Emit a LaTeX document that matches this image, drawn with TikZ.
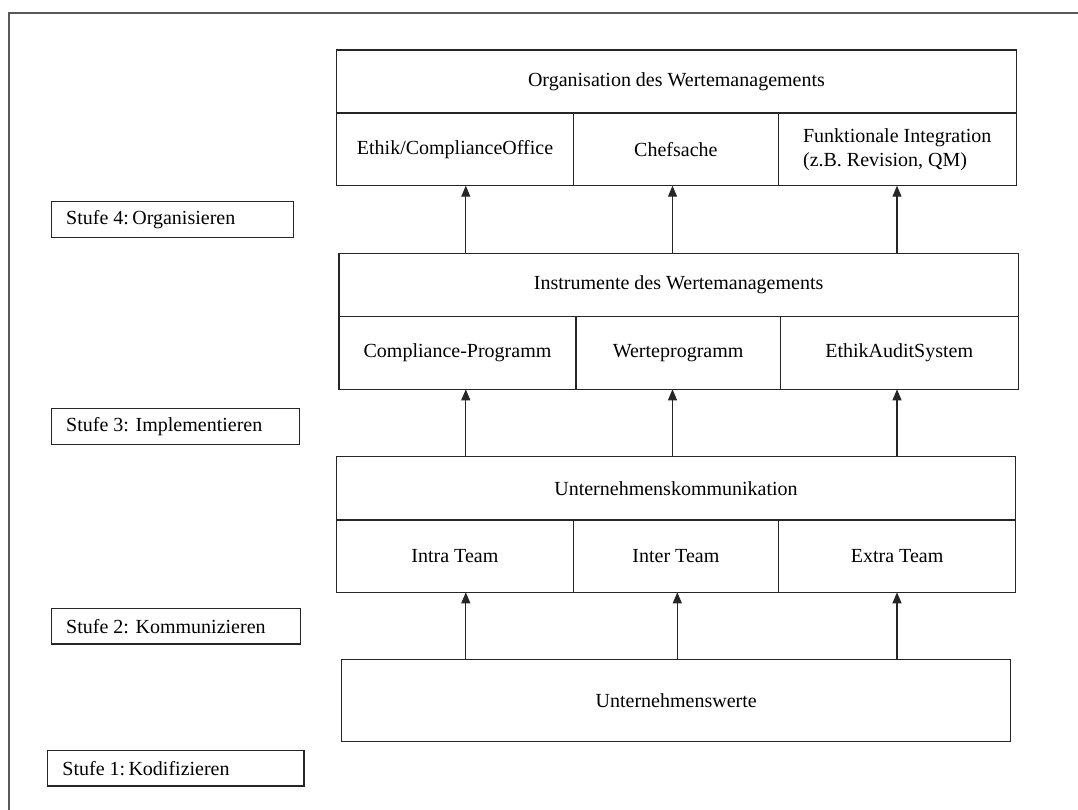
\documentclass[tikz,border=0pt]{standalone}
\usepackage{fontspec}
\setmainfont{Liberation Serif}
\usetikzlibrary{arrows.meta,fit}
\begin{document}
\begin{tikzpicture}[x=1pt,y=-1pt,
  cell/.style={draw=black!85, line width=1.1pt, inner sep=0pt, outer sep=0pt, align=center,
    font=\fontsize{20}{24}\selectfont},
  stufe/.style={draw=black!85, line width=1.1pt, inner sep=0pt, outer sep=0pt,
    font=\fontsize{20}{24}\selectfont},
  arr/.style={draw=black!85, line width=1.1pt, -{Triangle[width=9pt,length=11pt]}},
  frame/.style={draw=black!65, line width=1.4pt}]
\useasboundingbox (0,0) rectangle (1078,809);
\draw[frame] (9,815) -- (9,13) -- (1085,13);

% Level 4: Organisation
\node[cell, fit={(336.7,50) (1016.2,113)}] (orgH) {};
\node[font=\fontsize{20}{24}\selectfont] at (orgH.center) {Organisation des Wertemanagements};
\node[cell, fit={(336.7,113) (573.4,185.7)}] (orgA) {};
\node[font=\fontsize{20}{24}\selectfont] at (orgA.center) {Ethik/ComplianceOffice};
\node[cell, fit={(573.4,113) (778.3,185.7)}] (orgB) {};
\node[font=\fontsize{20}{24}\selectfont] at (orgB.center) {Chefsache};
\node[cell, fit={(778.3,113) (1016.2,185.7)}] (orgC) {};
\node[font=\fontsize{20}{24}\selectfont, align=left] at (orgC.center) {Funktionale Integration\\(z.B. Revision, QM)};

% Level 3: Instrumente
\node[cell, fit={(339,253.3) (1018.2,316.7)}] (insH) {};
\node[font=\fontsize{20}{24}\selectfont] at (insH.center) {Instrumente des Wertemanagements};
\node[cell, fit={(339,316.7) (576,389.3)}] (insA) {};
\node[font=\fontsize{20}{24}\selectfont] at (insA.center) {Compliance-Programm};
\node[cell, fit={(576,316.7) (780.2,389.3)}] (insB) {};
\node[font=\fontsize{20}{24}\selectfont] at (insB.center) {Werteprogramm};
\node[cell, fit={(780.2,316.7) (1018.2,389.3)}] (insC) {};
\node[font=\fontsize{20}{24}\selectfont] at (insC.center) {EthikAuditSystem};

% Level 2: Kommunikation
\node[cell, fit={(336.4,456.7) (1015.6,520)}] (komH) {};
\node[font=\fontsize{20}{24}\selectfont] at (komH.center) {Unternehmenskommunikation};
\node[cell, fit={(336.4,520) (573.3,592.3)}] (komA) {};
\node[font=\fontsize{20}{24}\selectfont] at (komA.center) {Intra Team};
\node[cell, fit={(573.3,520) (778.5,592.3)}] (komB) {};
\node[font=\fontsize{20}{24}\selectfont] at (komB.center) {Inter Team};
\node[cell, fit={(778.5,520) (1015.6,592.3)}] (komC) {};
\node[font=\fontsize{20}{24}\selectfont] at (komC.center) {Extra Team};

% Level 1: Werte
\node[cell, fit={(341.6,659.3) (1010.8,741.7)}] (werte) {};
\node[font=\fontsize{20}{24}\selectfont] at (werte.center) {Unternehmenswerte};

% Stufe labels
\node[stufe, fit={(51.7,201.7) (293.3,237.3)}] (s4) {};
\node[font=\fontsize{20}{24}\selectfont, anchor=west] at ([xshift=11pt]s4.west) {Stufe 4:\,Organisieren};
\node[stufe, fit={(51.7,408.3) (299.2,444.3)}] (s3) {};
\node[font=\fontsize{20}{24}\selectfont, anchor=west] at ([xshift=11pt]s3.west) {Stufe 3: Implementieren};
\node[stufe, fit={(51.7,608.3) (300.6,644)}] (s2) {};
\node[font=\fontsize{20}{24}\selectfont, anchor=west] at ([xshift=11pt]s2.west) {Stufe 2: Kommunizieren};
\node[stufe, fit={(47.9,750.3) (304,786)}] (s1) {};
\node[font=\fontsize{20}{24}\selectfont, anchor=west] at ([xshift=11pt]s1.west) {Stufe 1:\,Kodifizieren};

% arrow x positions
\coordinate (xa) at (465.8,0);
\coordinate (xb) at (672.5,0);
\coordinate (xb2) at (677.3,0);
\coordinate (xc) at (897,0);

% arrows level 1 -> 2
\draw[arr] (werte.north -| xa) -- (komA.south -| xa);
\draw[arr] (werte.north -| xb2) -- (komB.south -| xb2);
\draw[arr] (werte.north -| xc) -- (komC.south -| xc);
% arrows level 2 -> 3
\draw[arr] (komH.north -| xa) -- (insA.south -| xa);
\draw[arr] (komH.north -| xb) -- (insB.south -| xb);
\draw[arr] (komH.north -| xc) -- (insC.south -| xc);
% arrows level 3 -> 4
\draw[arr] (insH.north -| xa) -- (orgA.south -| xa);
\draw[arr] (insH.north -| xb) -- (orgB.south -| xb);
\draw[arr] (insH.north -| xc) -- (orgC.south -| xc);
\end{tikzpicture}
\end{document}
